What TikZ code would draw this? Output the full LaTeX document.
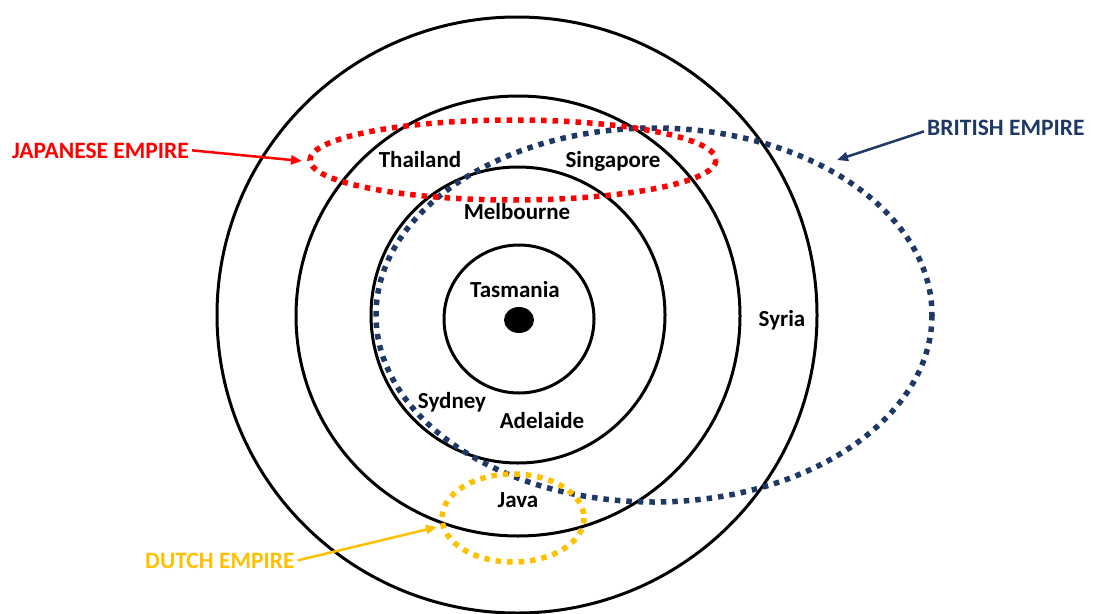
\documentclass[tikz,border=0pt]{standalone}
\usepackage{fontspec}
\setmainfont{Carlito}
\usetikzlibrary{arrows.meta}
\definecolor{japred}{HTML}{FF0000}
\definecolor{britblue}{HTML}{1F3864}
\definecolor{dutchgold}{HTML}{FFC000}

\begin{document}
\begin{tikzpicture}[x=1pt, y=-1pt,
    ring/.style={draw, line width=3pt},
    empire/.style={line width=5.5pt, dash pattern=on 5.5pt off 6pt},
    place/.style={font=\fontsize{23}{27}\selectfont\bfseries, anchor=base, inner sep=0pt},
    tag/.style={font=\fontsize{23.5}{28}\selectfont\bfseries, inner sep=3pt},
    pointer/.style={line width=2.5pt, -{Triangle[length=11pt, width=9pt]}}
  ]
    \useasboundingbox (0,0) rectangle (1094,613);
    % rings round the centre
    \draw[ring] (517,315) ellipse [x radius=300, y radius=298];
    \draw[ring] (518,316) ellipse [x radius=222, y radius=220];
    \draw[ring] (518,315) ellipse [x radius=147, y radius=148];
    \draw[ring] (519,319) ellipse [x radius=75, y radius=74];
    \fill (519,320) ellipse [x radius=15, y radius=13];
    % empires
    \draw[empire, britblue] (654,315) ellipse [x radius=278, y radius=187];
    \draw[empire, japred] (513,160) ellipse [x radius=203, y radius=40];
    \draw[empire, dutchgold] (513,518) ellipse [x radius=71, y radius=44];
    % places
    \node[place] (tasmania) at (515,297) {Tasmania};
    \node[place] (melbourne) at (517,219) {Melbourne};
    \node[place] (thailand) at (420,167) {Thailand};
    \node[place] (singapore) at (613,167) {Singapore};
    \node[place] (syria) at (782,326) {Syria};
    \node[place] (sydney) at (452,408) {Sydney};
    \node[place] (adelaide) at (542,428) {Adelaide};
    \node[place] (java) at (518,507) {Java};
    % labels and pointers
    \node[tag, japred, anchor=base west] (japan) at (9,158) {JAPANESE EMPIRE};
    \node[tag, britblue, anchor=base west] (britain) at (924,135) {BRITISH EMPIRE};
    \node[tag, dutchgold, anchor=base west] (dutch) at (142,568) {DUTCH EMPIRE};
    \coordinate (japTip) at (302,161);
    \coordinate (britTip) at (837,160);
    \coordinate (dutchTip) at (437,527);
    \draw[pointer, japred] (japan.east) -- (japTip);
    \draw[pointer, britblue] ([yshift=-4]britain.west) -- (britTip);
    \draw[pointer, dutchgold] (dutch.east) -- (dutchTip);
  \end{tikzpicture}
\end{document}
